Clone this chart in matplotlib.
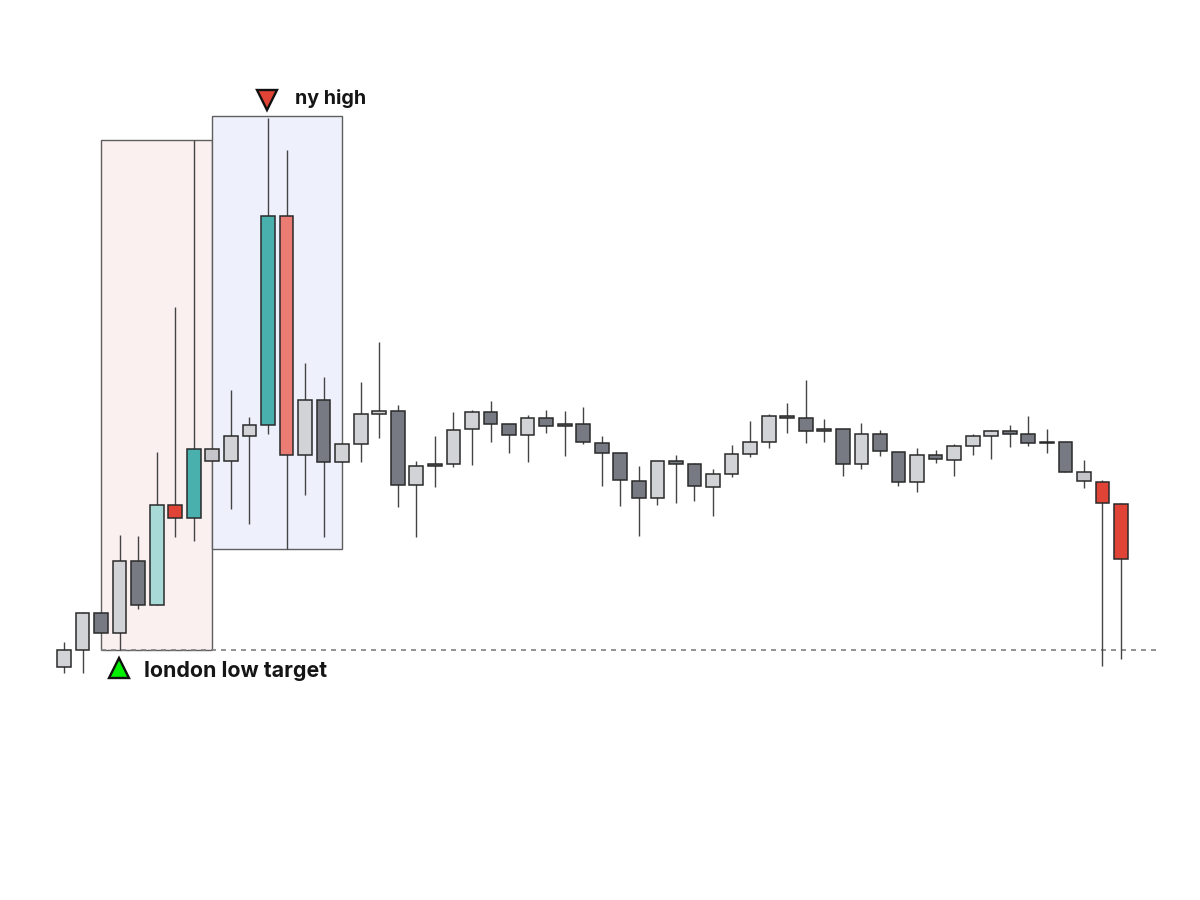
import matplotlib
matplotlib.use("Agg")
import matplotlib.pyplot as plt
from matplotlib.patches import Rectangle

highs = [258,288,287,365,364,448,593,760,451,510,483,782,750,537,523,456,518,558,495,439,464,488,490,499,476,485,490,489,493,464,447,434,439,445,437,431,455,479,486,497,520,481,471,477,470,448,452,450,456,466,470,475,484,471,458,440,420,397]
tops = [250,287,287,339,339,395,395,451,451,464,475,684,684,500,500,456,486,489,489,434,436,470,488,488,476,482,482,476,476,457,447,419,439,439,436,426,446,458,484,484,482,471,471,466,466,448,445,445,454,464,469,469,466,458,458,428,418,396]
bottoms = [233,250,267,267,295,295,382,382,439,439,464,475,445,445,438,438,456,486,415,415,434,436,471,476,465,465,474,474,458,447,420,402,402,436,414,413,426,446,458,482,469,469,436,436,449,418,418,441,440,454,464,466,457,457,428,419,397,341]
lows = [227,227,267,250,291,295,363,359,439,391,376,466,351,405,363,438,438,462,393,363,413,433,435,458,447,438,467,444,456,414,394,364,395,397,399,384,423,443,452,467,457,458,424,431,444,414,408,437,424,445,441,453,454,447,428,412,234,241]
kinds = list("LLDLDtRTGLLTSLDLLLDLDLLDDLDDDDDDLDDLLLLDDDDLDDLDLLLDDDDGRR")

palette = {"L": "#d2d3d7", "D": "#777983", "t": "#a8dad7", "T": "#4ab0ad",
           "R": "#e04436", "S": "#ea7c74", "G": "#c6c6ca"}

london_zone = (2, 8, 250, 760)
ny_zone = (8, 15, 351, 784)
target_level = 250
target_span = (2, 58.95)
london_marker = (2.97, 232)
ny_marker = (10.95, 800)

fig = plt.figure(figsize=(12, 9), dpi=100, facecolor="white")
ax = fig.add_axes([0, 0, 1, 1])
ax.set_xlim(-3.451, 61.26)
ax.set_ylim(0, 900)
ax.axis("off")

for (x0, x1, y0, y1), fc in ((london_zone, "#faf0f0"), (ny_zone, "#eef1fc")):
    ax.add_patch(Rectangle((x0, y0), x1 - x0, y1 - y0, facecolor=fc,
                           edgecolor="#5f5f5f", linewidth=1.0, zorder=1))

ax.plot(target_span, [target_level] * 2, color="#808080", lw=1.2,
        dashes=(3.0, 3.0), zorder=1.5)

xs = list(range(len(tops)))
ax.vlines(xs, lows, highs, color="#444444", linewidth=1.0, zorder=2)
ax.bar(xs, [t - b for t, b in zip(tops, bottoms)], bottom=bottoms, width=0.74,
       color=[palette[k] for k in kinds], edgecolor="#2a2a2a", linewidth=1.1,
       zorder=3)

ax.plot(*london_marker, marker="^", ms=15, mfc="#00f000", mec="#111111", mew=1.7, zorder=4)
ax.plot(*ny_marker, marker="v", ms=15, mfc="#e04436", mec="#111111", mew=1.7, zorder=4)

ax.text(4.3, 229, "london low target", fontfamily="Inter", fontweight="bold",
        fontsize=15.4, color="#151515", va="center", ha="left")
ax.text(12.45, 801.5, "ny high", fontfamily="Inter", fontweight="bold",
        fontsize=14.2, color="#151515", va="center", ha="left")

fig.savefig("out.png", dpi=100, facecolor="white")
